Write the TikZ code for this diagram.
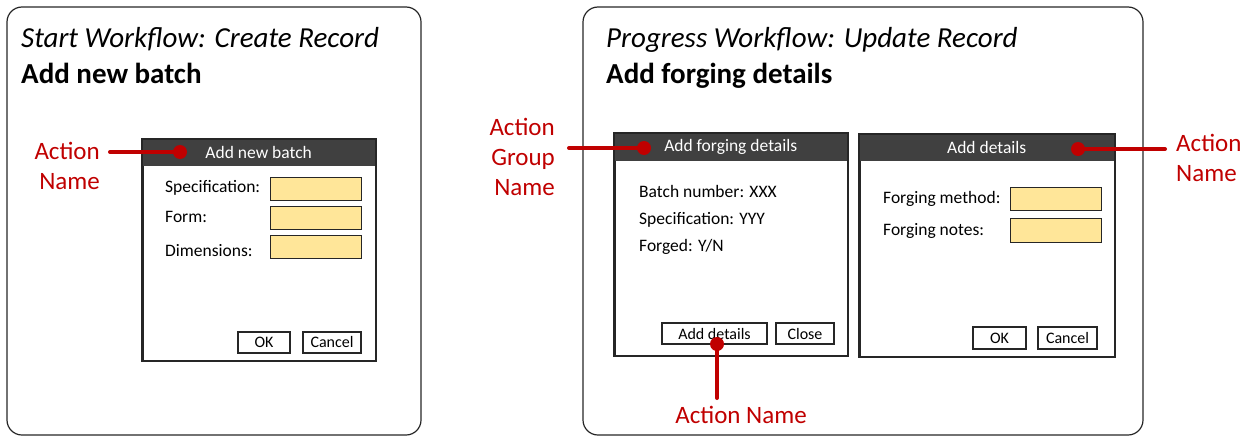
\documentclass[tikz,border=0pt]{standalone}
\usepackage{fontspec}
\setmainfont{Carlito}
\definecolor{barGray}{HTML}{404040}
\definecolor{fieldYellow}{HTML}{FFE699}
\definecolor{actRed}{HTML}{C00000}
\definecolor{lineGray}{HTML}{262626}
\tikzset{
  panel/.style={draw=lineGray, line width=1.2pt, rounded corners=15pt},
  dialog/.style={draw=lineGray, line width=1.5pt, fill=white, anchor=north west,
    inner sep=0pt, minimum width=#1},
  titlebar/.style={fill=barGray, text=white, anchor=north west, inner sep=0pt,
    minimum width=#1, minimum height=27pt, font=\fontsize{17.5}{21}\selectfont},
  field/.style={draw=lineGray, line width=1.2pt, fill=fieldYellow, anchor=north west,
    inner sep=0pt, minimum width=91pt, minimum height=23pt},
  btn/.style={draw=lineGray, line width=1.2pt, fill=white, inner sep=0pt,
    minimum height=21pt, font=\fontsize{16}{19}\selectfont},
  lbl/.style={anchor=base west, inner sep=0pt, font=\fontsize{17.5}{21}\selectfont},
  heading/.style={anchor=base west, inner sep=0pt, font=\fontsize{29}{34}\selectfont\itshape},
  subheading/.style={anchor=base west, inner sep=0pt, font=\fontsize{29}{34}\selectfont\bfseries},
  pin/.style={circle, fill=actRed, inner sep=0pt, minimum size=14pt},
  callout/.style={draw=actRed, line width=4pt, line cap=round},
  calltext/.style={text=actRed, inner sep=0pt, font=\fontsize{25}{30}\selectfont}
}
\begin{document}
\begin{tikzpicture}[x=1pt,y=-1pt]
\useasboundingbox (0,0) rectangle (1252,436);
\clip (0,0) rectangle (1252,436);

% ---------- left panel: create record ----------
\draw[panel] (7,7) rectangle (421,435);
\node[heading] (h1) at (21,48) {Start Workflow: Create Record};
\node[subheading] (s1) at (21,84) {Add new batch};

\node[dialog=233pt, minimum height=221pt] (d1) at (142,139) {};
\node[titlebar=233pt] (t1) at (142,139) {Add new batch};
\draw[lineGray, line width=1.5pt] (d1.north west) rectangle (d1.south east);

\node[lbl] (l1a) at (165,192) {Specification:};
\node[lbl] (l1b) at (165,222) {Form:};
\node[lbl] (l1c) at (165,256) {Dimensions:};
\node[field] (f1a) at (270,177) {};
\node[field] (f1b) at (270,206) {};
\node[field] (f1c) at (270,235) {};
\node[btn, minimum width=52pt] (ok1) at (264,342.5) {OK};
\node[btn, minimum width=58pt] (cn1) at (332,342.5) {Cancel};

\node[pin] (p1) at (180,152) {};
\node[calltext, anchor=base east, align=right] (c1) at (100,189) {Action\\Name};
\coordinate (c1e) at (110,152);
\draw[callout] (c1e) -- (p1.center);

% ---------- right panel: update record ----------
\draw[panel] (583,7) rectangle (1143,435);
\node[heading] (h2) at (606,48) {Progress Workflow: Update Record};
\node[subheading] (s2) at (606,84) {Add forging details};

% action group dialog
\node[dialog=233pt, minimum height=222pt] (d2) at (614,133) {};
\node[titlebar=233pt, minimum height=28pt] (t2) at (614,133) {Add forging details};
\draw[lineGray, line width=1.5pt] (d2.north west) rectangle (d2.south east);
\node[lbl] (l2a) at (639,197) {Batch number: XXX};
\node[lbl] (l2b) at (639,224) {Specification: YYY};
\node[lbl] (l2c) at (639,251) {Forged: Y/N};
\node[btn, minimum width=105pt] (ad2) at (714.5,333.5) {Add details};
\node[btn, minimum width=58pt] (cl2) at (805,333.5) {Close};

\node[pin] (p2) at (644,148) {};
\node[calltext, anchor=base east, align=right] (c2) at (555,195) {Action\\Group\\Name};
\coordinate (c2e) at (569,148);
\draw[callout] (c2e) -- (p2.center);

\node[pin] (p3) at (717,344) {};
\node[calltext, anchor=base] (c3) at (741,423) {Action Name};
\coordinate (c3n) at (717,398);
\draw[callout] (p3.center) -- (c3n);

% action dialog
\node[dialog=255pt, minimum height=222pt] (d3) at (859,134) {};
\node[titlebar=255pt] (t3) at (859,134) {Add details};
\draw[lineGray, line width=1.5pt] (d3.north west) rectangle (d3.south east);
\node[lbl] (l3a) at (883,203) {Forging method:};
\node[lbl] (l3b) at (883,235) {Forging notes:};
\node[field] (f3a) at (1010,187) {};
\node[field, minimum height=24pt] (f3b) at (1010,218) {};
\node[btn, minimum width=53pt, minimum height=22pt] (ok3) at (999.5,338) {OK};
\node[btn, minimum width=59pt, minimum height=22pt] (cn3) at (1067.5,338) {Cancel};

\node[pin] (p4) at (1078,149) {};
\node[calltext, anchor=base west, align=left] (c4) at (1176,181) {Action\\Name};
\coordinate (c4w) at (1165,149);
\draw[callout] (p4.center) -- (c4w);
\end{tikzpicture}
\end{document}
